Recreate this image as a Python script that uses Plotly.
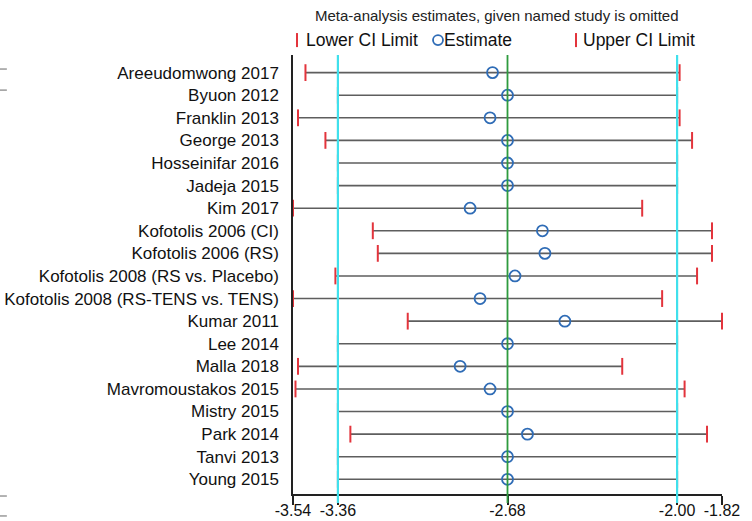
import plotly.graph_objects as go

studies = [
    "Areeudomwong 2017", "Byuon 2012", "Franklin 2013", "George 2013",
    "Hosseinifar 2016", "Jadeja 2015", "Kim 2017", "Kofotolis 2006 (CI)",
    "Kofotolis 2006 (RS)", "Kofotolis 2008 (RS vs. Placebo)",
    "Kofotolis 2008 (RS-TENS vs. TENS)", "Kumar 2011", "Lee 2014",
    "Malla 2018", "Mavromoustakos 2015", "Mistry 2015", "Park 2014",
    "Tanvi 2013", "Young 2015",
]
estimate = [-2.74, -2.68, -2.75, -2.68, -2.68, -2.68, -2.83, -2.54, -2.53, -2.65,
            -2.79, -2.45, -2.68, -2.87, -2.75, -2.68, -2.60, -2.68, -2.68]
lower = [-3.49, -3.36, -3.52, -3.41, -3.36, -3.36, -3.54, -3.22, -3.20, -3.37,
         -3.54, -3.08, -3.36, -3.52, -3.53, -3.36, -3.31, -3.36, -3.36]
upper = [-1.99, -2.00, -1.99, -1.94, -2.00, -2.00, -2.14, -1.86, -1.86, -1.92,
         -2.06, -1.82, -2.00, -2.22, -1.97, -2.00, -1.88, -2.00, -2.00]

overall_est = -2.68
overall_lo = -3.36
overall_hi = -2.00
x_min, x_max = -3.54, -1.82
tick_vals = [-3.54, -3.36, -2.68, -2.00, -1.82]
tick_text = ["-3.54", "-3.36", "-2.68", "-2.00", "-1.82"]

title_text = "Meta-analysis estimates, given named study is omitted"
legend_lower = "Lower CI Limit"
legend_est = "Estimate"
legend_upper = "Upper CI Limit"

FONT = "Arial, Liberation Sans, sans-serif"
RED = "#e3343c"
BLUE = "#2f6cb6"
GREY = "#5e5e5e"
CYAN = "#40e0ec"
GREEN = "#2e9b3e"

y_top = -0.78
y_bot = 18.65

fig = go.Figure()

# horizontal CI lines
lx, ly = [], []
for s, lo, hi in zip(studies, lower, upper):
    lx += [lo, hi, None]
    ly += [s, s, None]
fig.add_trace(go.Scatter(x=lx, y=ly, mode="lines", line=dict(color=GREY, width=1.6),
                         hoverinfo="skip", showlegend=False))

# reference vertical lines
for xv, col, w in [(overall_lo, CYAN, 2.2), (overall_hi, CYAN, 2.2), (overall_est, GREEN, 1.8)]:
    fig.add_trace(go.Scatter(x=[xv, xv], y=[y_top, y_bot], mode="lines",
                             line=dict(color=col, width=w), hoverinfo="skip",
                             showlegend=False, yaxis="y2"))

# caps
fig.add_trace(go.Scatter(x=lower, y=studies, mode="markers", cliponaxis=False,
                         marker=dict(symbol="line-ns", size=12, line=dict(color=RED, width=2)),
                         showlegend=False))
fig.add_trace(go.Scatter(x=upper, y=studies, mode="markers", cliponaxis=False,
                         marker=dict(symbol="line-ns", size=12, line=dict(color=RED, width=2)),
                         showlegend=False))
# estimates
fig.add_trace(go.Scatter(x=estimate, y=studies, mode="markers", cliponaxis=False,
                         marker=dict(symbol="circle-open", size=11, color=BLUE,
                                     line=dict(color=BLUE, width=1.8)),
                         showlegend=False))

shapes = []
# coloured tick extensions below the axis
for xv, col, w in [(overall_lo, CYAN, 2.2), (overall_hi, CYAN, 2.2), (overall_est, GREEN, 1.8)]:
    shapes.append(dict(type="line", xref="x", yref="paper", x0=xv, x1=xv, y0=0, y1=-0.0205,
                       line=dict(color=col, width=w), layer="above"))

# legend symbols
shapes.append(dict(type="line", xref="paper", yref="paper", x0=0.0093, x1=0.0093,
                   y0=1.018, y1=1.050, line=dict(color=RED, width=2)))
shapes.append(dict(type="line", xref="paper", yref="paper", x0=0.6597, x1=0.6597,
                   y0=1.018, y1=1.050, line=dict(color=RED, width=2)))
shapes.append(dict(type="circle", xref="paper", yref="paper", xsizemode="pixel",
                   ysizemode="pixel", xanchor=0.338, yanchor=1.034, x0=-5, x1=5, y0=-5, y1=5,
                   line=dict(color=BLUE, width=1.8)))

# small grey marks at left edge
for yp in [0.968, 0.920, -0.0046, -0.050]:
    shapes.append(dict(type="line", xref="paper", yref="paper", x0=-0.683, x1=-0.667,
                       y0=yp, y1=yp, line=dict(color="#9a9a9a", width=1.5)))

annotations = [
    dict(text=title_text, xref="paper", yref="paper", x=0.475, y=1.089, showarrow=False,
         xanchor="center", yanchor="middle", font=dict(family=FONT, size=15, color="#222")),
    dict(text=legend_lower, xref="paper", yref="paper", x=0.026, y=1.034, showarrow=False,
         xanchor="left", yanchor="middle", font=dict(family=FONT, size=17.5, color="#111")),
    dict(text=legend_est, xref="paper", yref="paper", x=0.347, y=1.034, showarrow=False,
         xanchor="left", yanchor="middle", font=dict(family=FONT, size=17.5, color="#111")),
    dict(text=legend_upper, xref="paper", yref="paper", x=0.671, y=1.034, showarrow=False,
         xanchor="left", yanchor="middle", font=dict(family=FONT, size=17.5, color="#111")),
]

fig.update_layout(
    width=752, height=521,
    margin=dict(l=293, r=30, t=55, b=27),
    paper_bgcolor="white", plot_bgcolor="white",
    font=dict(family=FONT, color="#111"),
    showlegend=False,
    shapes=shapes,
    annotations=annotations,
    xaxis=dict(range=[x_min, x_max], tickvals=tick_vals, ticktext=tick_text,
               ticks="outside", ticklen=9, tickwidth=1.5, tickcolor="#222",
               showline=True, linecolor="#222", linewidth=1.5, showgrid=False,
               zeroline=False, automargin=False, ticklabelstandoff=-8,
               tickfont=dict(family=FONT, size=16, color="#111")),
    yaxis=dict(type="category", categoryorder="array", categoryarray=studies,
               range=[y_bot, y_top], showline=True, linecolor="#222", linewidth=1.5,
               showgrid=False, zeroline=False, ticks="", ticklabelstandoff=9,
               automargin=False, tickfont=dict(family=FONT, size=17, color="#111")),
    yaxis2=dict(overlaying="y", range=[y_bot, y_top], visible=False),
)

fig.write_html("out.html")
